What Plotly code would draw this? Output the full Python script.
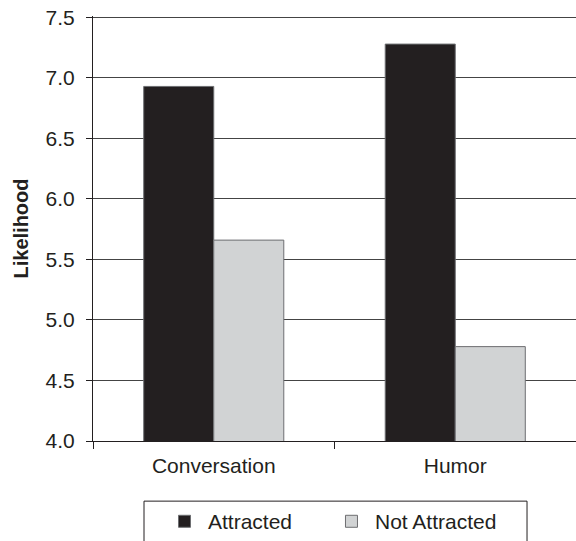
import plotly.graph_objects as go

categories = ["Conversation", "Humor"]
attracted = [6.93, 7.28]
not_attracted = [5.66, 4.78]
y_ticks = [4.0, 4.5, 5.0, 5.5, 6.0, 6.5, 7.0, 7.5]

font_family = "Liberation Sans, Arial, sans-serif"
ink = "#231f20"

fig = go.Figure()
fig.add_trace(go.Bar(
    name="Attracted", x=categories, y=attracted, legend="legend",
    marker=dict(color=ink, line=dict(color="#6d6e71", width=1)),
))
fig.add_trace(go.Bar(
    name="Not Attracted", x=categories, y=not_attracted, legend="legend2",
    marker=dict(color="#d1d3d4", line=dict(color="#6d6e71", width=1)),
))

# legend frame (box is cut by the bottom edge in the reference)
fig.add_shape(
    type="rect", xref="paper", yref="paper",
    x0=0.1056, x1=0.8986, y0=-0.30, y1=-0.1415,
    line=dict(color=ink, width=1), fillcolor="rgba(0,0,0,0)", layer="above",
)

legend_common = dict(
    orientation="h", xanchor="left", y=-0.1415, yanchor="top",
    borderwidth=0, bgcolor="rgba(0,0,0,0)",
    font=dict(size=21, color=ink), itemwidth=37,
    itemclick=False, itemdoubleclick=False,
)

fig.update_layout(
    width=576, height=541,
    margin=dict(l=93, r=0, t=15.5, b=100, autoexpand=False),
    paper_bgcolor="white", plot_bgcolor="white",
    barmode="group", bargap=0.42, bargroupgap=0,
    font=dict(family=font_family, size=21, color=ink),
    showlegend=True,
    legend=dict(x=0.1408, **legend_common),
    legend2=dict(x=0.4865, **legend_common),
    xaxis=dict(
        range=[-0.5, 1.5], showline=True, linecolor=ink, linewidth=1,
        ticks="outside", tickson="boundaries", ticklen=7, tickcolor=ink,
        showgrid=False, tickfont=dict(size=21), ticklabelstandoff=6,
    ),
    yaxis=dict(
        range=[4.0, 7.512], tickvals=y_ticks, ticktext=[f"{v:.1f}" for v in y_ticks],
        showline=True, linecolor=ink, linewidth=1,
        ticks="outside", ticklen=6, tickcolor=ink,
        showgrid=True, gridcolor="#444444", gridwidth=1, zeroline=False,
        tickfont=dict(size=21), ticklabeloverflow="allow", ticklabelstandoff=7,
        title=dict(text="<b>Likelihood</b>", font=dict(size=20), standoff=11),
    ),
)

fig.write_html(
    "out.html",
    config={"displayModeBar": False},
    post_script="document.body.style.margin='0';",
)
